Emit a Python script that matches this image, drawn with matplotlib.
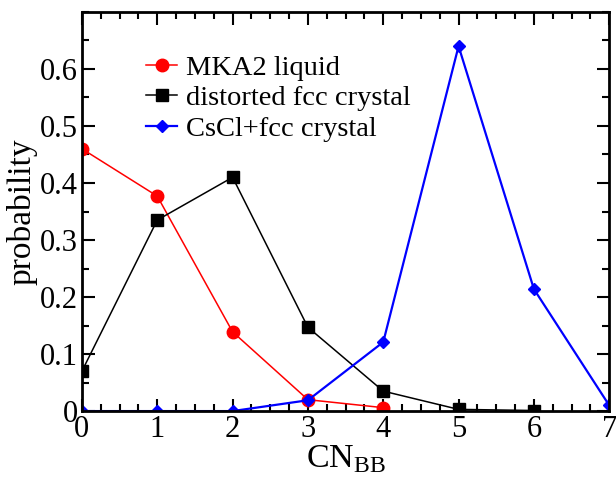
import numpy as np
import matplotlib.pyplot as plt
from matplotlib.ticker import MultipleLocator

plt.rcParams['font.family'] = ['Liberation Serif', 'DejaVu Serif']
plt.rcParams['mathtext.fontset'] = 'custom'
plt.rcParams['mathtext.rm'] = 'Liberation Serif'

# --- DATA ---
cn_liquid = [0, 1, 2, 3, 4]
p_liquid = [0.46, 0.377, 0.139, 0.020, 0.006]

cn_fcc = [0, 1, 2, 3, 4, 5, 6]
p_fcc = [0.070, 0.335, 0.410, 0.147, 0.035, 0.003, 0.001]

cn_cscl = [0, 1, 2, 3, 4, 5, 6, 7]
p_cscl = [0.0, 0.0, 0.0, 0.019, 0.121, 0.640, 0.214, 0.010]

labels = ["MKA2 liquid", "distorted fcc crystal", "CsCl+fcc crystal"]

fig = plt.figure(figsize=(6.16, 4.78), dpi=100)
ax = fig.add_axes([0.133, 0.14, 0.856, 0.835])

ax.plot(cn_liquid, p_liquid, color='red', lw=1.1, marker='o', ms=9, label=labels[0])
ax.plot(cn_fcc, p_fcc, color='black', lw=1.1, marker='s', ms=8, label=labels[1])
ax.plot(cn_cscl, p_cscl, color='blue', lw=1.6, marker='D', ms=6, label=labels[2])

ax.set_xlim(0, 7)
ax.set_ylim(0, 0.7)
ax.xaxis.set_major_locator(MultipleLocator(1))
ax.xaxis.set_minor_locator(MultipleLocator(0.25))
ax.yaxis.set_minor_locator(MultipleLocator(0.05))
ax.set_yticks([0, 0.1, 0.2, 0.3, 0.4, 0.5, 0.6])
ax.set_yticklabels(['0', '0.1', '0.2', '0.3', '0.4', '0.5', '0.6'])

ax.tick_params(which='both', direction='in', top=True, right=True, width=1.5, labelsize=22)
ax.tick_params(which='major', length=9)
ax.tick_params(which='minor', length=5)
ax.tick_params(axis='x', pad=3)
ax.tick_params(axis='y', pad=3)
for s in ax.spines.values():
    s.set_linewidth(2)

ax.set_xlabel(r'CN$_{\mathrm{BB}}$', fontsize=24.5, labelpad=-1)
ax.set_ylabel('probability', fontsize=24, labelpad=2)

ax.legend(loc='upper left', bbox_to_anchor=(0.10, 0.92), frameon=False, fontsize=20.5,
          handlelength=1.1, handletextpad=0.3, labelspacing=0.15, borderaxespad=0)

fig.savefig('out.png', dpi=100)
